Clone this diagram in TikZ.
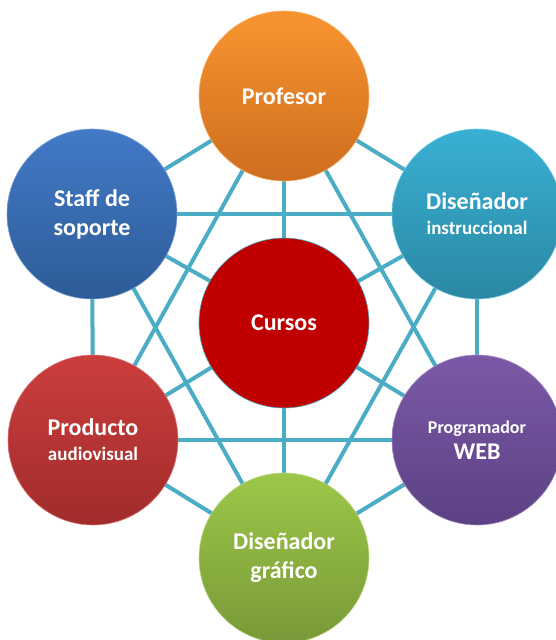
\documentclass[tikz,border=0pt]{standalone}
\usepackage{fontspec}
\setmainfont{Carlito}
\begin{document}
\begin{tikzpicture}[x=1pt,y=-1pt,
  link/.style={draw=linkc,line width=4pt},
  ball/.style={circle,minimum size=170pt,inner sep=0pt,text=white,align=center,
    line width=0.6pt,font=\bfseries\fontsize{24}{29}\selectfont}]
\definecolor{linkc}{HTML}{4BACC6}
\definecolor{profT}{HTML}{F8942F}\definecolor{profB}{HTML}{CE6D1F}
\definecolor{staffT}{HTML}{437AC7}\definecolor{staffB}{HTML}{2D5B97}
\definecolor{dinsT}{HTML}{39B0D4}\definecolor{dinsB}{HTML}{2A88A3}
\definecolor{prodT}{HTML}{CB3E3D}\definecolor{prodB}{HTML}{A02C2B}
\definecolor{webT}{HTML}{7B59A7}\definecolor{webB}{HTML}{5B4183}
\definecolor{grafT}{HTML}{9DC749}\definecolor{grafB}{HTML}{789938}
\definecolor{curC}{HTML}{C00000}
\useasboundingbox (0,0) rectangle (556,640);
\coordinate (pc) at (284,96);
\coordinate (sc) at (92,214);
\coordinate (dc) at (477,214);
\coordinate (cc) at (284,323);
\coordinate (ac) at (93,440);
\coordinate (wc) at (477,440);
\coordinate (gc) at (284,558);
% connectors
\foreach \a/\b in {pc/sc,pc/dc,pc/cc,pc/ac,pc/wc,sc/dc,sc/cc,sc/ac,sc/gc,dc/cc,dc/wc,dc/gc,cc/ac,cc/wc,cc/gc,ac/wc,ac/gc,wc/gc}
  \draw[link] (\a) -- (\b);
% nodes
\node[ball,top color=profT,bottom color=profB,draw=profT!70!white] (prof) at (pc) {Profesor};
\node[ball,top color=staffT,bottom color=staffB,draw=staffT!70!white] (staff) at (sc) {Staff de\\soporte};
\node[ball,top color=dinsT,bottom color=dinsB,draw=dinsT!70!white] (dins) at (dc) {Diseñador\\[-4pt]{\fontsize{19}{20}\selectfont instruccional}};
\node[ball,fill=curC,draw=linkc] (cur) at (cc) {Cursos};
\node[ball,top color=prodT,bottom color=prodB,draw=prodT!70!white] (prod) at (ac) {Producto\\[-4pt]{\fontsize{19}{20}\selectfont audiovisual}};
\node[ball,top color=webT,bottom color=webB,draw=webT!70!white] (web) at (wc) {{\fontsize{18}{20}\selectfont Programador}\\[-3pt]WEB};
\node[ball,top color=grafT,bottom color=grafB,draw=grafT!70!white] (graf) at (gc) {Diseñador\\gráfico};
\end{tikzpicture}
\end{document}
